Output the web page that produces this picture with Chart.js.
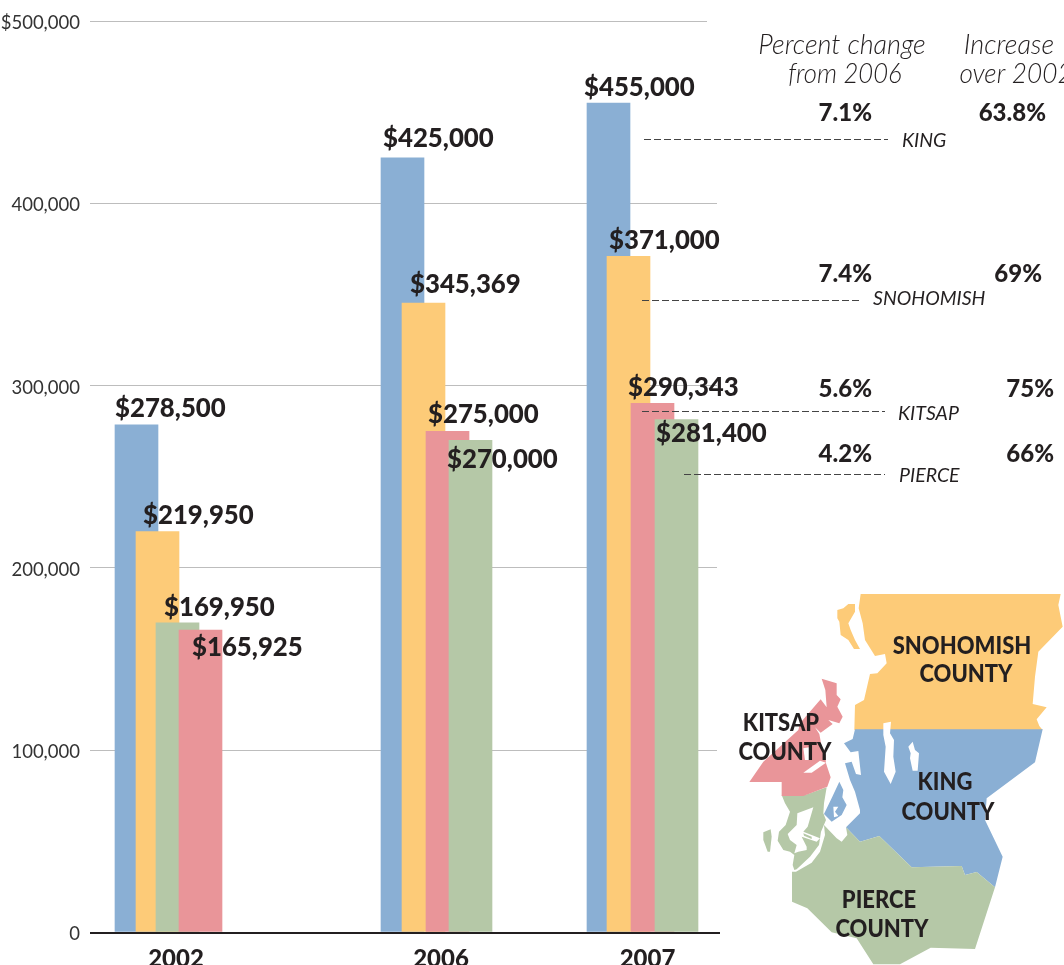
<!DOCTYPE html>
<html>
<head>
<meta charset="utf-8">
<title>Median home prices</title>
<script src="https://cdn.jsdelivr.net/npm/chart.js@4"></script>
<style>
  html, body { margin: 0; padding: 0; background: #fff; overflow: hidden; }
  canvas { display: block; }
</style>
</head>
<body>
<canvas id="grafico" width="1064" height="965"></canvas>
<script>
// Datos
var years = ['2002', '2006', '2007'];
var king = [278500, 425000, 455000];
var snohomish = [219950, 345369, 371000];
var kitsap = [165925, 275000, 290343];
var pierce = [169950, 270000, 281400];
var yTicks = [0, 100000, 200000, 300000, 400000, 500000];
var counties = ['KING', 'SNOHOMISH', 'KITSAP', 'PIERCE'];
var changeFrom2006 = ['7.1%', '7.4%', '5.6%', '4.2%'];
var increaseOver2002 = ['63.8%', '69%', '75%', '66%'];

// Colores y tipografia
var INK = '#231f20';
var BLUE = '#8aafd4', YELLOW = '#fdcb78', PINK = '#e99599', GREEN = '#b5c8a7';
var FONT = 'Lato, "Noto Sans", sans-serif';

// Maquetacion: el eje x va en las mismas unidades que el ancho del lienzo
var AREA_LEFT = 90, AREA_RIGHT = 720, AREA_TOP = 21, AREA_BOTTOM = 932.5;
var BAR_W = 43;
var yearTickX = [176, 441, 647.5];
var barX = {
  king: [136.5, 402.5, 608.5],
  snohomish: [157.5, 423.5, 628.5],
  kitsap: [200.5, 447.5, 652.5],
  pierce: [177.5, 470.5, 676.5]
};
// Desplazamiento de la etiqueta respecto a la esquina superior izquierda de la barra
var labelDx = {
  king: [0, 2, -3],
  snohomish: [7, 8, 2],
  kitsap: [13, 2, -3],
  pierce: [8, -2, 1]
};
var labelDy = {
  king: [-8, -11, -7],
  snohomish: [-8, -10, -7],
  kitsap: [26, -8, -7],
  pierce: [-7, 28, 22]
};

function points(name, values, only) {
  return values.map(function (v, i) {
    return { x: barX[name][i], y: only.indexOf(i) >= 0 ? v : null };
  });
}

// Chart.js pinta primero el ultimo dataset, asi que el de arriba va el primero.
// Pierce va partido porque en 2002 queda debajo de Kitsap y en el resto encima
var datasets = [
  { label: 'Pierce', key: 'pierce', values: pierce, data: points('pierce', pierce, [1, 2]), backgroundColor: GREEN },
  { label: 'Kitsap', key: 'kitsap', values: kitsap, data: points('kitsap', kitsap, [0, 1, 2]), backgroundColor: PINK },
  { label: 'Pierce 2002', key: 'pierce', values: pierce, data: points('pierce', pierce, [0]), backgroundColor: GREEN },
  { label: 'Snohomish', key: 'snohomish', values: snohomish, data: points('snohomish', snohomish, [0, 1, 2]), backgroundColor: YELLOW },
  { label: 'King', key: 'king', values: king, data: points('king', king, [0, 1, 2]), backgroundColor: BLUE }
];

function text(ctx, str, x, y, font, align, hscale) {
  ctx.save();
  ctx.font = font;
  ctx.textAlign = align || 'left';
  ctx.textBaseline = 'alphabetic';
  ctx.fillStyle = INK;
  ctx.translate(x, y);
  ctx.scale(hscale || 1, 1);
  ctx.fillText(str, 0, 0);
  ctx.restore();
}

// Recorta las lineas de la reticula donde terminan en el original
var gridTrim = {
  id: 'gridTrim',
  beforeDatasetsDraw: function (chart) {
    var c = chart.ctx, y = chart.scales.y;
    c.save();
    c.fillStyle = '#fff';
    yTicks.forEach(function (t) {
      if (t === 0) return;
      var end = t === 500000 ? 707 : 717;
      c.fillRect(end, y.getPixelForValue(t) - 2, AREA_RIGHT - end + 1, 4);
    });
    c.restore();
  }
};

// Etiquetas de valor encima de las barras
var valueLabels = {
  id: 'valueLabels',
  afterDatasetsDraw: function (chart) {
    var c = chart.ctx;
    chart.data.datasets.forEach(function (ds, d) {
      chart.getDatasetMeta(d).data.forEach(function (bar, i) {
        if (ds.data[i].y === null) return;
        var left = bar.x - BAR_W / 2 + labelDx[ds.key][i];
        var top = bar.y + labelDy[ds.key][i];
        text(c, '$' + ds.values[i].toLocaleString('en-US'), left, top, '900 27px ' + FONT, 'left', 0.955);
      });
    });
  }
};

// Tabla de la derecha con lineas guia
var leaderY = [139.5, 300.5, 411.5, 474.5];
var leaderX0 = [644, 642, 642, 684];
var leaderX1 = [888, 860, 885, 885];
var nameX = [902, 873, 898, 899];
var nameY = [147, 305, 420, 482];
var rowY = [121, 282, 397, 462];
var increaseRight = [1046, 1042, 1054, 1054];

var sideTable = {
  id: 'sideTable',
  afterDraw: function (chart) {
    var c = chart.ctx;
    c.save();
    var head = 'italic 300 27px ' + FONT;
    text(c, 'Percent change', 842, 54, head, 'center');
    text(c, 'from 2006', 845, 83, head, 'center', 0.95);
    text(c, 'Increase', 1009, 54, head, 'center');
    text(c, 'over 2002', 1016, 83, head, 'center', 0.97);
    counties.forEach(function (name, i) {
      c.beginPath();
      c.setLineDash([7, 3]);
      c.lineWidth = 1.2;
      c.strokeStyle = '#444';
      c.moveTo(leaderX0[i], leaderY[i]);
      c.lineTo(leaderX1[i], leaderY[i]);
      c.stroke();
      c.setLineDash([]);
      text(c, name, nameX[i], nameY[i], 'italic 19.5px ' + FONT);
      text(c, changeFrom2006[i], 872, rowY[i], '900 24px ' + FONT, 'right');
      text(c, increaseOver2002[i], increaseRight[i], rowY[i], '900 24px ' + FONT, 'right');
    });
    c.restore();
  }
};

// Mapa de los condados, en unidades de un recorte 3x
var mapShapes = [
  [YELLOW, [422,42, 1022,42, 1015,75, 1028,140, 955,215, 945,290, 938,372, 980,382, 950,418, 958,438, 968,450, 403,450, 405,375, 432,360, 450,282, 472,280, 500,250, 495,222, 465,228, 435,180, 428,130, 416,85]],
  [YELLOW, [352,90, 370,85, 385,72, 405,72, 405,95, 385,130, 392,150, 405,180, 420,207, 402,207, 385,180, 362,165, 358,125, 352,115]],
  [GREEN, [185,645, 255,645, 320,622, 312,670, 310,700, 318,720, 303,755, 297,795, 270,830, 230,868, 223,870, 218,855, 223,825, 210,815, 190,810, 173,782, 177,755, 197,735, 210,695, 195,670]],
  [PINK, [305,296, 350,310, 350,345, 362,358, 352,380, 368,410, 358,430, 325,420, 338,432, 302,458, 285,442, 298,462, 305,500, 316,525, 318,550, 332,592, 322,620, 250,648, 185,648, 185,606, 88,606, 130,545, 235,450, 240,430, 302,358, 320,382, 316,330]],
  ['#fff', [250,578, 275,578, 318,548, 300,542]],
  ['#fff', [250,505, 268,502, 272,540, 255,540]],
  [BLUE, [405,448, 968,448, 945,547, 800,655, 795,720, 848,830, 825,922, 770,876, 735,885, 725,858, 575,862, 478,768, 420,785, 378,742, 420,700, 420,690, 405,635, 390,600, 375,550, 395,545, 408,582, 423,585, 415,513, 392,517, 372,490, 398,477]],
  ['#fff', [490,430, 513,425, 510,460, 522,480, 520,530, 527,575, 512,612, 492,575, 497,500, 490,465]],
  ['#fff', [565,500, 578,485, 585,510, 597,520, 593,572, 578,572, 570,535, 572,520]],
  [BLUE, [358,605, 370,630, 367,652, 380,675, 365,705, 335,725, 312,702, 337,650]],
  ['#fff', [340,680, 355,680, 345,695, 355,708, 342,712]],
  [GREEN, [378,742, 420,785, 478,768, 575,862, 725,858, 735,885, 770,876, 825,922, 765,1107, 632,1103, 540,1153, 460,1153, 410,1075, 335,1057, 262,985, 216,965, 216,875, 228,875, 275,848, 300,815, 315,765, 312,735, 350,775, 365,785, 382,765]],
  ['#fff', [203,762, 230,735, 232,700, 280,682, 263,740, 250,755, 300,775, 290,785, 245,770, 260,800, 260,810, 235,815, 223,820, 230,795, 210,780]],
  [GREEN, [250,760, 275,770, 275,777, 252,767]],
  [GREEN, [130,757, 152,748, 155,770, 150,815, 143,815, 130,780]]
];
var mapLabels = [
  ['SNOHOMISH', 962, 654], ['COUNTY', 966, 682],
  ['KITSAP', 781, 731], ['COUNTY', 785, 760],
  ['KING', 945, 790], ['COUNTY', 948, 820],
  ['PIERCE', 879, 908], ['COUNTY', 882, 937]
];

var countyMap = {
  id: 'countyMap',
  afterDraw: function (chart) {
    var c = chart.ctx;
    c.save();
    c.translate(720, 580);
    c.scale(1 / 3, 1 / 3);
    mapShapes.forEach(function (shape) {
      var p = shape[1];
      c.beginPath();
      c.moveTo(p[0], p[1]);
      for (var i = 2; i < p.length; i += 2) c.lineTo(p[i], p[i + 1]);
      c.closePath();
      c.fillStyle = shape[0];
      c.fill();
    });
    c.restore();
    mapLabels.forEach(function (l) {
      text(c, l[0], l[1], l[2], '900 25px ' + FONT, 'center', 0.88);
    });
  }
};

new Chart(document.getElementById('grafico').getContext('2d'), {
  type: 'bar',
  data: { datasets: datasets },
  plugins: [gridTrim, valueLabels, sideTable, countyMap],
  options: {
    responsive: false,
    animation: false,
    layout: {
      autoPadding: false,
      padding: { top: AREA_TOP, right: 1064 - AREA_RIGHT, left: 0, bottom: 0 }
    },
    plugins: {
      legend: { display: false },
      tooltip: { enabled: false },
      title: { display: false }
    },
    datasets: { bar: { grouped: false, barThickness: BAR_W, borderWidth: 0 } },
    scales: {
      x: {
        type: 'linear',
        offset: false,
        min: AREA_LEFT,
        max: AREA_RIGHT,
        grid: { display: false },
        border: { display: false },
        afterBuildTicks: function (scale) {
          scale.ticks = yearTickX.map(function (v) { return { value: v }; });
        },
        afterFit: function (scale) { scale.height = 965 - AREA_BOTTOM; },
        ticks: {
          autoSkip: false,
          maxRotation: 0,
          padding: 4,
          color: INK,
          font: { family: FONT, size: 24, weight: '900' },
          callback: function (value) { return years[yearTickX.indexOf(value)]; }
        }
      },
      y: {
        min: 0,
        max: 500000,
        afterBuildTicks: function (scale) {
          scale.ticks = yTicks.map(function (v) { return { value: v }; });
        },
        afterFit: function (scale) { scale.width = AREA_LEFT; },
        border: { display: false },
        grid: {
          drawTicks: false,
          color: function (ctx) { return ctx.tick.value === 0 ? INK : '#bdbdbd'; },
          lineWidth: function (ctx) { return ctx.tick.value === 0 ? 2 : 1; }
        },
        ticks: {
          padding: 10,
          labelOffset: 2,
          color: '#333',
          font: { family: FONT, size: 18.5, weight: '400' },
          callback: function (value) {
            var s = value.toLocaleString('en-US');
            return value === 500000 ? '$' + s : s;
          }
        }
      }
    }
  }
});
</script>
</body>
</html>
